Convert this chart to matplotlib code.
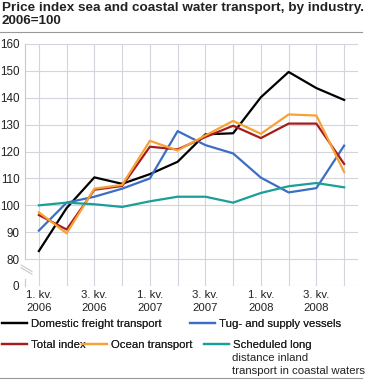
import matplotlib.pyplot as plt
from matplotlib.lines import Line2D

plt.rcParams['font.family'] = ['Liberation Sans', 'DejaVu Sans']
plt.rcParams['font.size'] = 8

quarters = ["1. kv.\n2006", "2. kv.\n2006", "3. kv.\n2006", "4. kv.\n2006",
            "1. kv.\n2007", "2. kv.\n2007", "3. kv.\n2007", "4. kv.\n2007",
            "1. kv.\n2008", "2. kv.\n2008", "3. kv.\n2008", "4. kv.\n2008"]

domestic = [83.0, 99.0, 110.4, 108.0, 111.6, 116.2, 126.4, 126.8, 140.2, 149.6, 143.6, 139.2]
tug = [90.6, 101.0, 103.2, 106.2, 110.0, 127.6, 122.4, 119.3, 110.3, 104.8, 106.4, 122.2]
total = [96.4, 91.0, 105.8, 107.2, 121.8, 120.8, 125.4, 129.6, 125.0, 130.4, 130.4, 115.4]
ocean = [97.4, 89.6, 106.2, 107.6, 124.0, 120.4, 126.0, 131.4, 126.6, 133.8, 133.4, 112.4]
scheduled = [100.0, 101.0, 100.4, 99.4, 101.5, 103.2, 103.2, 101.0, 104.6, 107.1, 108.3, 106.7]

W, H = 366, 380
fig = plt.figure(figsize=(W / 100, H / 100), dpi=100)
ax = fig.add_axes([25 / W, 1 - 286 / H, 333 / W, 242 / H])

x = list(range(len(quarters)))
l1, = ax.plot(x, domestic, color="#000000", lw=1.6, label="Domestic freight transport")
l2, = ax.plot(x, tug, color="#3b6ec4", lw=1.6, label="Tug- and supply vessels")
l3, = ax.plot(x, total, color="#a61c1c", lw=1.6, label="Total index")
l4, = ax.plot(x, ocean, color="#f7a235", lw=1.6, label="Ocean transport")
l5, = ax.plot(x, scheduled, color="#1a9e99", lw=1.6, label="Scheduled long")

ax.set_xlim(-0.5, 11.5)
ax.set_ylim(70, 160)
ax.set_yticks(range(70, 161, 10))
ax.set_yticklabels(["0"] + [str(v) for v in range(80, 161, 10)], fontsize=8.4)
ax.set_xticks(x)
ax.set_xticklabels([q if i % 2 == 0 else "" for i, q in enumerate(quarters)], fontsize=8.2,
                   linespacing=1.3)
ax.tick_params(length=0, labelcolor="#222222")
ax.tick_params(axis="y", pad=4)
ax.tick_params(axis="x", pad=3)
ax.grid(True, color="#d4d4dc", lw=0.8)
ax.set_axisbelow(True)
for s in ["top", "right", "bottom", "left"]:
    ax.spines[s].set_visible(False)

# left axis line with a break between 0 and 80
ax.plot([-0.5, -0.5], [80, 160], color="#c8c8d0", lw=0.8, clip_on=False)
ax.plot([-0.5, -0.5], [70, 72.5], color="#c8c8d0", lw=0.8, clip_on=False)
for dy in [0, 1.0]:
    ax.add_line(Line2D([-0.64, -0.25], [77.8 - dy, 75.4 - dy], color="#c8c8d0", lw=0.8, clip_on=False))

fig.text(2 / W, 1 - 2 / H, "Price index sea and coastal water transport, by industry.\n2006=100",
         fontweight="bold", fontsize=9.7, va="top", ha="left", linespacing=1.15, color="#222222")
fig.add_artist(Line2D([0, 362 / W], [1 - 32 / H] * 2, color="#999999", lw=0.8))
fig.add_artist(Line2D([0, 362 / W], [1 - 378 / H] * 2, color="#999999", lw=0.8))

# legend items placed like the flowing legend of the original
items = [(l1, 2, 324), (l2, 190, 324), (l3, 2, 345), (l4, 82, 345), (l5, 204, 345)]
for h, px, py in items:
    leg = fig.legend(handles=[h], loc="center left", bbox_to_anchor=(px / W, 1 - py / H),
                     frameon=False, borderpad=0, handlelength=2.2, handletextpad=0.35,
                     borderaxespad=0, fontsize=8.2)
    leg.get_texts()[0].set_color("#222222")
    fig.add_artist(leg)
fig.text(232 / W, 1 - 358 / H, "distance inland", fontsize=8.2, va="center", color="#222222")
fig.text(232 / W, 1 - 371 / H, "transport in coastal waters", fontsize=8.2, va="center", color="#222222")

fig.savefig("out.png", dpi=100)
